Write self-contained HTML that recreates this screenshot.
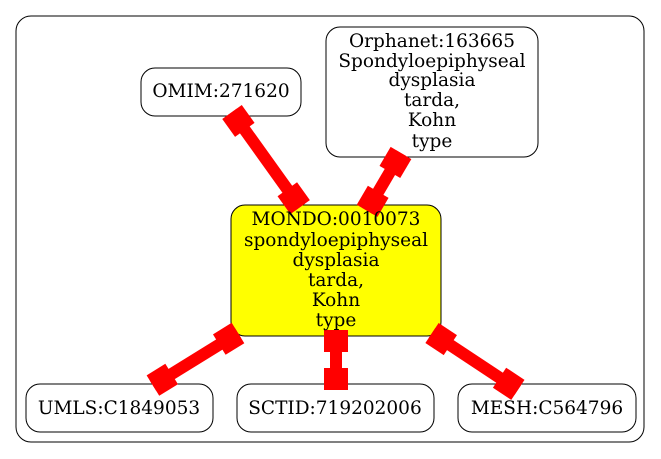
<!DOCTYPE html>
<html><head><style>body{margin:0;background:#fff}svg{display:block}text{font-family:"DejaVu Serif",serif;font-size:18.5px;text-anchor:middle}</style></head>
<body>
<svg width="661" height="459" xmlns="http://www.w3.org/2000/svg">
<rect x="16" y="16" width="628" height="426" rx="15" fill="#fff" stroke="#000" stroke-width="1"/>
<g fill="#fff" stroke="#000" stroke-width="1">
<rect x="141" y="68" width="160" height="48" rx="14"/>
<rect x="326" y="27" width="212" height="130" rx="14"/>
<rect x="231" y="205" width="210" height="131" rx="14" fill="#ff0"/>
<rect x="26" y="384" width="187" height="48" rx="14"/>
<rect x="237" y="384" width="197" height="48" rx="14"/>
<rect x="458" y="384" width="178" height="48" rx="14"/>
</g>
<g fill="#f00">
<g transform="translate(232,112) rotate(54.4)"><rect x="0" y="-6" width="117" height="12"/><rect x="0" y="-12" width="22" height="24"/><rect x="95" y="-12" width="22" height="24"/></g>
<g transform="translate(401,153) rotate(120.4)"><rect x="0" y="-6" width="67" height="12"/><rect x="0" y="-12" width="22" height="24"/><rect x="45" y="-12" width="22" height="24"/></g>
<g transform="translate(238,333) rotate(148.3)"><rect x="0" y="-6" width="100" height="12"/><rect x="0" y="-12" width="22" height="24"/><rect x="78" y="-12" width="22" height="24"/></g>
<g transform="translate(336,330) rotate(90)"><rect x="0" y="-6" width="60" height="12"/><rect x="0" y="-12" width="22" height="24"/><rect x="38" y="-12" width="22" height="24"/></g>
<g transform="translate(432,333) rotate(33.5)"><rect x="0" y="-6" width="103" height="12"/><rect x="0" y="-12" width="22" height="24"/><rect x="81" y="-12" width="22" height="24"/></g>
</g>
<text x="221" y="97">OMIM:271620</text>
<text x="432" y="47">Orphanet:163665</text>
<text x="432" y="67">Spondyloepiphyseal</text>
<text x="432" y="86">dysplasia</text>
<text x="432" y="106">tarda,</text>
<text x="432" y="126">Kohn</text>
<text x="432" y="147">type</text>
<text x="336" y="225">MONDO:0010073</text>
<text x="336" y="246">spondyloepiphyseal</text>
<text x="336" y="266">dysplasia</text>
<text x="336" y="286">tarda,</text>
<text x="336" y="306">Kohn</text>
<text x="336" y="326">type</text>
<text x="119" y="414">UMLS:C1849053</text>
<text x="335" y="414">SCTID:719202006</text>
<text x="547" y="414">MESH:C564796</text>
</svg>
</body></html>
